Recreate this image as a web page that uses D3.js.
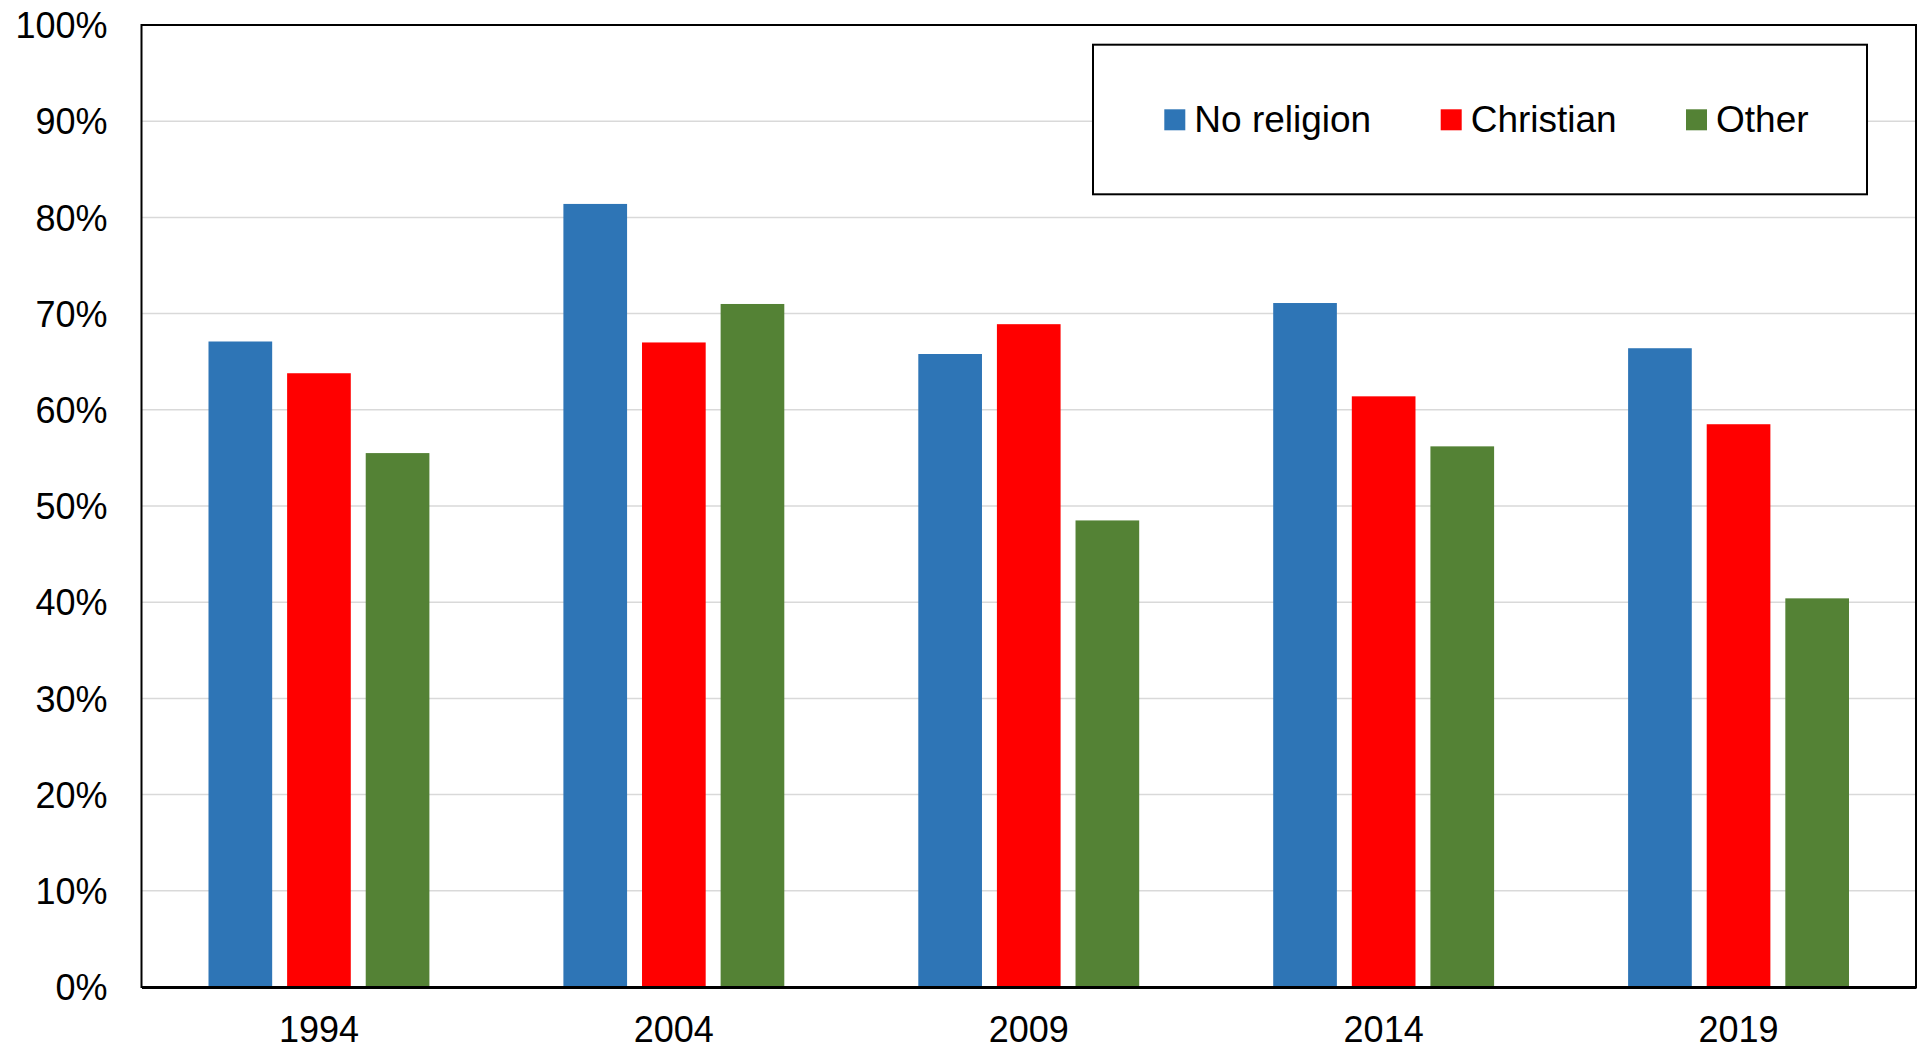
<!DOCTYPE html>
<html>
<head>
<meta charset="utf-8">
<script src="https://cdn.jsdelivr.net/npm/d3@7"></script>
<style>
  body { margin: 0; background: #fff; }
  svg text { font-family: "Liberation Sans", Arial, sans-serif; fill: #000; }
</style>
</head>
<body>
<svg id="chart" width="1918" height="1049"></svg>
<script>
var years = ["1994", "2004", "2009", "2014", "2019"];
var seriesNames = ["No religion", "Christian", "Other"];
var noReligion = [67.1, 81.4, 65.8, 71.1, 66.4];
var christian = [63.8, 67.0, 68.9, 61.4, 58.5];
var other = [55.5, 71.0, 48.5, 56.2, 40.4];
var yTicks = [0, 10, 20, 30, 40, 50, 60, 70, 80, 90, 100];
var colors = ["#2E75B6", "#FF0000", "#548235"];

var seriesValues = [noReligion, christian, other];
var data = years.map(function(yr, i) {
  return { year: yr, values: seriesNames.map(function(s, j) { return { key: s, value: seriesValues[j][i] }; }) };
});

var svg = d3.select("#chart"),
    margin = {top: 25, right: 2, bottom: 62, left: 141.5},
    width = +svg.attr("width") - margin.left - margin.right,
    height = +svg.attr("height") - margin.top - margin.bottom;

var x0 = d3.scaleBand().domain(years).range([0, width]).paddingInner(0).paddingOuter(0);
var x1 = d3.scaleBand().domain(seriesNames).range([67, x0.bandwidth() - 67]).paddingInner(0.19);
var y = d3.scaleLinear().domain([0, 100]).range([height, 0]);
var color = d3.scaleOrdinal().domain(seriesNames).range(colors);

var g = svg.append("g")
    .attr("transform", "translate(" + margin.left + "," + margin.top + ")");

// gridlines
g.append("g")
    .selectAll("line")
    .data(yTicks.filter(function(d) { return d > 0 && d < 100; }))
    .enter().append("line")
      .attr("x1", 0)
      .attr("x2", width)
      .attr("y1", function(d) { return y(d); })
      .attr("y2", function(d) { return y(d); })
      .attr("stroke", "#d9d9d9")
      .attr("stroke-width", 1.5);

// bars
g.selectAll(".group")
  .data(data)
  .enter().append("g")
    .attr("class", "group")
    .attr("transform", function(d) { return "translate(" + x0(d.year) + ",0)"; })
  .selectAll("rect")
  .data(function(d) { return d.values; })
  .enter().append("rect")
    .attr("x", function(d) { return x1(d.key); })
    .attr("y", function(d) { return y(d.value); })
    .attr("width", x1.bandwidth())
    .attr("height", function(d) { return height - y(d.value); })
    .attr("fill", function(d) { return color(d.key); });

// plot frame
g.append("rect")
    .attr("x", 0)
    .attr("y", 0)
    .attr("width", width)
    .attr("height", height)
    .attr("fill", "none")
    .attr("stroke", "#000")
    .attr("stroke-width", 2);

// y axis labels
var yAxis = g.append("g")
    .call(d3.axisLeft(y).tickValues(yTicks).tickFormat(function(d) { return d + "%"; }).tickSize(0).tickPadding(34));
yAxis.select(".domain").remove();
yAxis.selectAll("text")
    .style("font-size", "36px")
    .attr("dy", "0.35em");

// x axis
var xAxis = g.append("g")
    .attr("transform", "translate(0," + height + ")")
    .call(d3.axisBottom(x0).tickSize(0).tickPadding(29));
xAxis.select(".domain").attr("stroke", "#000").attr("stroke-width", 3);
xAxis.selectAll("text")
    .style("font-size", "36px");

// legend
var legend = svg.append("g");
legend.append("rect")
    .attr("x", 1093)
    .attr("y", 44.7)
    .attr("width", 774)
    .attr("height", 149.6)
    .attr("fill", "#fff")
    .attr("stroke", "#000")
    .attr("stroke-width", 2);

var legendX = [1164.3, 1440.7, 1686];
var item = legend.selectAll(".item")
  .data(seriesNames)
  .enter().append("g")
    .attr("class", "item")
    .attr("transform", function(d, i) { return "translate(" + legendX[i] + ",109.3)"; });
item.append("rect")
    .attr("width", 21)
    .attr("height", 21)
    .attr("fill", function(d) { return color(d); });
item.append("text")
    .attr("x", 30)
    .attr("y", 22.5)
    .style("font-size", "37px")
    .text(function(d) { return d; });
</script>
</body>
</html>
